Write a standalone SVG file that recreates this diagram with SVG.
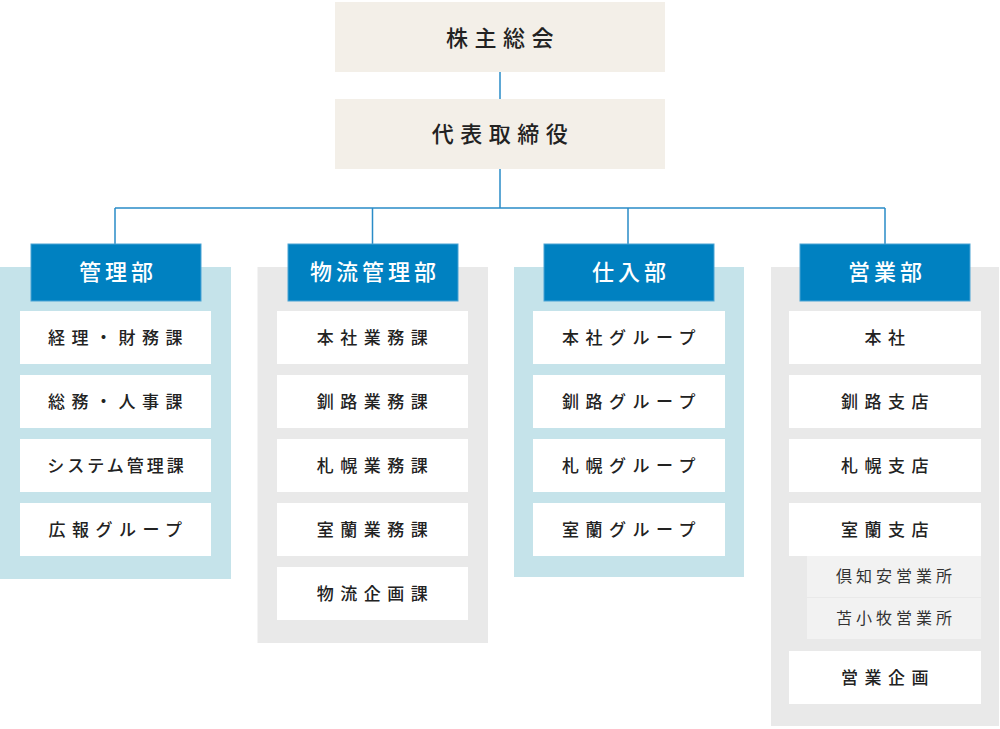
<svg xmlns="http://www.w3.org/2000/svg" width="1000" height="729" viewBox="0 0 1000 729">
<style>
text{font-family:"Noto Sans CJK JP","Noto Sans",sans-serif;text-anchor:middle}
.top{fill:#f3efe8}
.tt{font-size:22px;fill:#222;letter-spacing:6.5px;font-weight:500}
.hd{fill:#0081c1;stroke:#4aa3d4;stroke-width:1}
.ht{font-size:22px;fill:#fff;letter-spacing:4px;font-weight:500}
.pb{fill:#c5e3ea}
.pg{fill:#e9e9e9}
.it{fill:#fff}
.itt{font-size:17px;fill:#222;letter-spacing:6.5px;font-weight:500}
.sub{fill:#f2f2f2}
.st{font-size:16px;fill:#333;letter-spacing:4px}
.ln{fill:none;stroke:#2a8cc8;stroke-width:1.5}
</style>
<g id="connectors">
<path class="ln" d="M500 72V99M500 169V208M115 208H885M115 208V244M372.5 208V244M628 208V244M885 208V244"/>
</g>
<g id="n-shareholders">
<rect class="top" x="335" y="2" width="330" height="70"/>
<text class="tt" x="503" y="46">株主総会</text>
</g>
<g id="n-ceo">
<rect class="top" x="335" y="99" width="330" height="70"/>
<text class="tt" x="503" y="142">代表取締役</text>
</g>
<g id="d-kanri">
<rect class="pb" x="0" y="267" width="231" height="312"/>
<rect class="hd" x="31" y="244" width="170" height="57"/>
<text class="ht" x="118" y="280">管理部</text>
<g id="kanri-1"><rect class="it" x="20" y="311" width="191" height="53"/><text class="itt" x="118.5" y="344">経理・財務課</text></g>
<g id="kanri-2"><rect class="it" x="20" y="375" width="191" height="53"/><text class="itt" x="118.5" y="408">総務・人事課</text></g>
<g id="kanri-3"><rect class="it" x="20" y="439" width="191" height="53"/><text class="itt" x="117" y="472" style="letter-spacing:3px">システム管理課</text></g>
<g id="kanri-4"><rect class="it" x="20" y="503" width="191" height="53"/><text class="itt" x="118.5" y="536">広報グループ</text></g>
</g>
<g id="d-butsuryu">
<rect class="pg" x="257.5" y="267" width="230.5" height="376"/>
<rect class="hd" x="288" y="244" width="170" height="57"/>
<text class="ht" x="375" y="280">物流管理部</text>
<g id="butsuryu-1"><rect class="it" x="277" y="311" width="191" height="53"/><text class="itt" x="375.5" y="344">本社業務課</text></g>
<g id="butsuryu-2"><rect class="it" x="277" y="375" width="191" height="53"/><text class="itt" x="375.5" y="408">釧路業務課</text></g>
<g id="butsuryu-3"><rect class="it" x="277" y="439" width="191" height="53"/><text class="itt" x="375.5" y="472">札幌業務課</text></g>
<g id="butsuryu-4"><rect class="it" x="277" y="503" width="191" height="53"/><text class="itt" x="375.5" y="536">室蘭業務課</text></g>
<g id="butsuryu-5"><rect class="it" x="277" y="567" width="191" height="53"/><text class="itt" x="375.5" y="600">物流企画課</text></g>
</g>
<g id="d-shiire">
<rect class="pb" x="514" y="267" width="230" height="310"/>
<rect class="hd" x="544" y="244" width="170" height="57"/>
<text class="ht" x="631" y="280">仕入部</text>
<g id="shiire-1"><rect class="it" x="533" y="311" width="192" height="53"/><text class="itt" x="632" y="344">本社グループ</text></g>
<g id="shiire-2"><rect class="it" x="533" y="375" width="192" height="53"/><text class="itt" x="632" y="408">釧路グループ</text></g>
<g id="shiire-3"><rect class="it" x="533" y="439" width="192" height="53"/><text class="itt" x="632" y="472">札幌グループ</text></g>
<g id="shiire-4"><rect class="it" x="533" y="503" width="192" height="53"/><text class="itt" x="632" y="536">室蘭グループ</text></g>
</g>
<g id="d-eigyo">
<rect class="pg" x="771" y="267" width="228" height="459"/>
<rect class="hd" x="800" y="244" width="170" height="57"/>
<text class="ht" x="887" y="280">営業部</text>
<g id="eigyo-1"><rect class="it" x="789" y="311" width="192" height="53"/><text class="itt" x="888" y="344">本社</text></g>
<g id="eigyo-2"><rect class="it" x="789" y="375" width="192" height="53"/><text class="itt" x="888" y="408">釧路支店</text></g>
<g id="eigyo-3"><rect class="it" x="789" y="439" width="192" height="53"/><text class="itt" x="888" y="472">札幌支店</text></g>
<g id="eigyo-4"><rect class="it" x="789" y="503" width="192" height="53"/><text class="itt" x="888" y="536">室蘭支店</text></g>
<g id="eigyo-4a"><rect class="sub" x="807" y="556" width="174" height="41"/><text class="st" x="896" y="582">倶知安営業所</text></g>
<g id="eigyo-4b"><rect class="sub" x="807" y="598" width="174" height="41"/><text class="st" x="896" y="624">苫小牧営業所</text></g>
<g id="eigyo-5"><rect class="it" x="789" y="651" width="192" height="53"/><text class="itt" x="888" y="684">営業企画</text></g>
</g>
</svg>
